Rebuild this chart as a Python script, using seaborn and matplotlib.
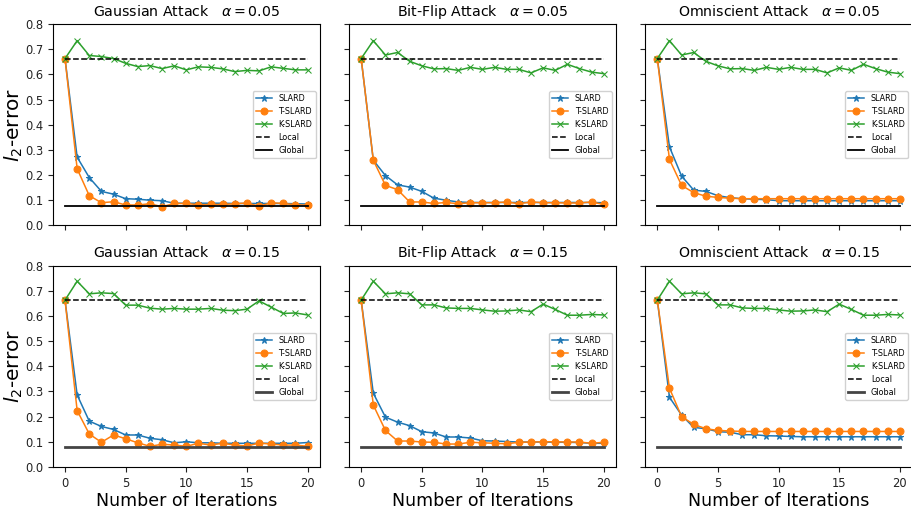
import numpy as np
import seaborn as sns
import matplotlib
matplotlib.use("Agg")
import matplotlib.pyplot as plt

# iterations 0..20
iters = list(range(21))
local_err = 0.663
global_err = 0.078

# Gaussian attack, alpha = 0.05
gauss05_slard = [0.663, 0.271, 0.19, 0.135, 0.124, 0.106, 0.104, 0.10, 0.098, 0.088, 0.088,
                 0.088, 0.088, 0.088, 0.087, 0.087, 0.087, 0.087, 0.087, 0.086, 0.085]
gauss05_tslard = [0.663, 0.225, 0.118, 0.09, 0.094, 0.081, 0.081, 0.086, 0.074, 0.087, 0.087,
                  0.082, 0.083, 0.083, 0.086, 0.089, 0.076, 0.09, 0.087, 0.082, 0.08]
gauss05_kslard = [0.663, 0.734, 0.675, 0.671, 0.663, 0.644, 0.631, 0.635, 0.623, 0.634, 0.618,
                  0.63, 0.628, 0.622, 0.611, 0.616, 0.614, 0.63, 0.624, 0.618, 0.618]

# Bit-flip attack, alpha = 0.05
bitflip05_slard = [0.663, 0.259, 0.198, 0.161, 0.152, 0.135, 0.108, 0.10, 0.093, 0.091, 0.091,
                   0.091, 0.091, 0.091, 0.091, 0.091, 0.091, 0.091, 0.091, 0.091, 0.09]
bitflip05_tslard = [0.663, 0.259, 0.159, 0.142, 0.093, 0.093, 0.087, 0.091, 0.086, 0.09, 0.09,
                    0.09, 0.093, 0.086, 0.093, 0.09, 0.09, 0.089, 0.089, 0.093, 0.083]
kslard05 = [0.663, 0.734, 0.677, 0.687, 0.652, 0.634, 0.622, 0.623, 0.616, 0.628, 0.62,
            0.628, 0.62, 0.62, 0.606, 0.626, 0.616, 0.64, 0.623, 0.609, 0.603]

# Omniscient attack, alpha = 0.05
omni05_slard = [0.663, 0.312, 0.196, 0.14, 0.135, 0.118, 0.11, 0.106, 0.104, 0.102, 0.098,
                0.098, 0.098, 0.098, 0.098, 0.098, 0.098, 0.098, 0.098, 0.098, 0.098]
omni05_tslard = [0.663, 0.262, 0.159, 0.13, 0.116, 0.111, 0.108, 0.106, 0.106, 0.106, 0.106,
                 0.106, 0.106, 0.106, 0.106, 0.106, 0.106, 0.106, 0.106, 0.106, 0.106]

# Gaussian attack, alpha = 0.15
gauss15_slard = [0.663, 0.286, 0.182, 0.161, 0.149, 0.127, 0.127, 0.114, 0.108, 0.096, 0.1,
                 0.096, 0.096, 0.094, 0.094, 0.094, 0.094, 0.094, 0.094, 0.094, 0.097]
gauss15_tslard = [0.663, 0.224, 0.131, 0.098, 0.127, 0.112, 0.096, 0.082, 0.09, 0.087, 0.082,
                  0.094, 0.087, 0.094, 0.087, 0.083, 0.095, 0.091, 0.087, 0.087, 0.082]
gauss15_kslard = [0.663, 0.738, 0.688, 0.692, 0.689, 0.643, 0.643, 0.631, 0.627, 0.63, 0.627,
                  0.627, 0.63, 0.623, 0.621, 0.627, 0.66, 0.635, 0.61, 0.612, 0.604]

# Bit-flip attack, alpha = 0.15
bitflip15_slard = [0.663, 0.293, 0.198, 0.178, 0.164, 0.14, 0.135, 0.119, 0.119, 0.115, 0.104,
                   0.103, 0.101, 0.099, 0.099, 0.099, 0.098, 0.098, 0.097, 0.094, 0.094]
bitflip15_tslard = [0.663, 0.246, 0.145, 0.103, 0.103, 0.099, 0.098, 0.091, 0.091, 0.098, 0.096,
                    0.094, 0.092, 0.098, 0.099, 0.1, 0.1, 0.099, 0.099, 0.094, 0.098]
kslard15 = [0.663, 0.738, 0.688, 0.692, 0.688, 0.644, 0.644, 0.632, 0.63, 0.63, 0.624,
            0.619, 0.62, 0.624, 0.617, 0.647, 0.626, 0.603, 0.603, 0.606, 0.604]

# Omniscient attack, alpha = 0.15
omni15_slard = [0.663, 0.277, 0.206, 0.157, 0.152, 0.14, 0.138, 0.128, 0.128, 0.124, 0.123,
                0.121, 0.12, 0.12, 0.12, 0.12, 0.12, 0.12, 0.12, 0.12, 0.12]
omni15_tslard = [0.663, 0.313, 0.2, 0.169, 0.152, 0.145, 0.143, 0.141, 0.141, 0.141, 0.141,
                 0.141, 0.141, 0.141, 0.141, 0.141, 0.141, 0.141, 0.141, 0.141, 0.141]

titles = [
    ["Gaussian Attack   $\\alpha = 0.05$", "Bit-Flip Attack   $\\alpha = 0.05$",
     "Omniscient Attack   $\\alpha = 0.05$"],
    ["Gaussian Attack   $\\alpha = 0.15$", "Bit-Flip Attack   $\\alpha = 0.15$",
     "Omniscient Attack   $\\alpha = 0.15$"],
]
panels = [
    [(gauss05_slard, gauss05_tslard, gauss05_kslard),
     (bitflip05_slard, bitflip05_tslard, kslard05),
     (omni05_slard, omni05_tslard, kslard05)],
    [(gauss15_slard, gauss15_tslard, gauss15_kslard),
     (bitflip15_slard, bitflip15_tslard, kslard15),
     (omni15_slard, omni15_tslard, kslard15)],
]

pal = sns.color_palette("tab10")

fig, axes = plt.subplots(2, 3, figsize=(9.12, 5.12), dpi=100, sharex=True, sharey=True)
fig.subplots_adjust(left=0.058, right=1.0, top=0.953, bottom=0.088, wspace=0.11, hspace=0.2)

for r in range(2):
    for c in range(3):
        ax = axes[r, c]
        slard, tslard, kslard = panels[r][c]
        sns.lineplot(x=iters, y=slard, ax=ax, color=pal[0], marker="*", markersize=5,
                     markeredgecolor=pal[0], linewidth=1.1, label="SLARD")
        sns.lineplot(x=iters, y=tslard, ax=ax, color=pal[1], marker="o", markersize=5,
                     markeredgecolor=pal[1], linewidth=1.1, label="T-SLARD")
        sns.lineplot(x=iters, y=kslard, ax=ax, color=pal[2], marker="x", markersize=4.5,
                     markeredgecolor=pal[2], linewidth=1.1, label="K-SLARD")
        sns.lineplot(x=iters, y=[local_err] * len(iters), ax=ax, color="k",
                     linestyle="--", linewidth=1.1, label="Local")
        sns.lineplot(x=iters, y=[global_err] * len(iters), ax=ax,
                     color="k" if r == 0 else "#444444",
                     linewidth=1.3 if r == 0 else 2.0, label="Global")
        ax.set_ylim(0, 0.8)
        ax.set_yticks(np.arange(0, 0.81, 0.1))
        ax.set_xticks([0, 5, 10, 15, 20])
        ax.tick_params(labelsize=8.3, colors="#222222")
        ax.set_title(titles[r][c], fontsize=10.2)
        ax.legend(loc="center right", fontsize=5.8, framealpha=0.9)
        if c == 0:
            ax.set_ylabel("$l_2$-error", fontsize=14.5)
            # keep the label inside the figure, right next to the tick labels
            ax.yaxis.set_label_coords(-0.105, 0.5)
        if r == 1:
            ax.set_xlabel("Number of Iterations", fontsize=12.5, labelpad=2)

fig.savefig("out.png", dpi=100)
